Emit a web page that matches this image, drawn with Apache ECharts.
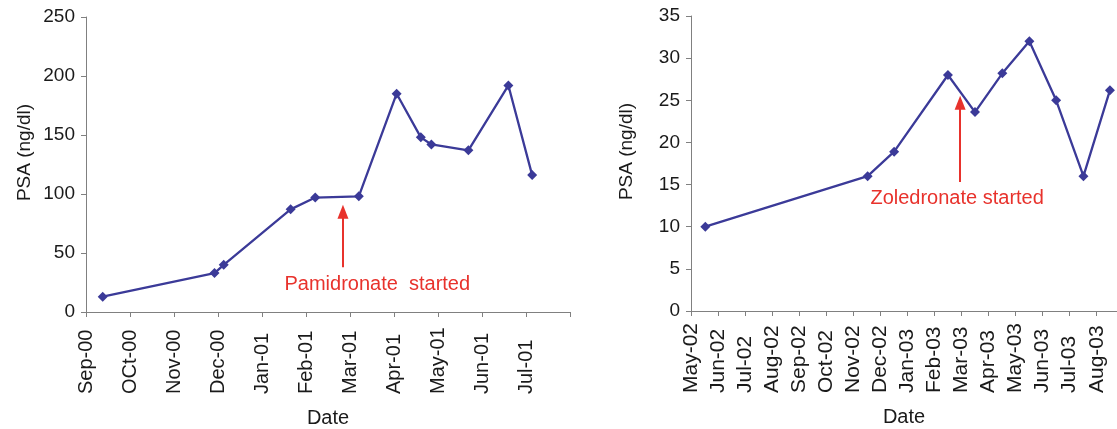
<!DOCTYPE html>
<html>
<head>
<meta charset="utf-8">
<script src="https://cdn.jsdelivr.net/npm/echarts@6/dist/echarts.min.js"></script>
<style>
  html, body { margin: 0; padding: 0; background: #fff; }
  #chart { width: 1117px; height: 429px; }
</style>
</head>
<body>
<div id="chart"></div>
<script>
// 左图：帕米膦酸 (x = 从 Sep-00 起的月份位置)
var leftMonths = ['Sep-00', 'OCt-00', 'Nov-00', 'Dec-00', 'Jan-01', 'Feb-01', 'Mar-01', 'Apr-01', 'May-01', 'Jun-01', 'Jul-01', ''];
var leftX = [0.38, 2.92, 3.13, 4.65, 5.21, 6.20, 7.06, 7.61, 7.85, 8.69, 9.60, 10.14];
var leftPSA = [13, 33, 40, 87, 97, 98, 185, 148, 142, 137, 192, 116];
var leftTicks = [0, 50, 100, 150, 200, 250];

// 右图：唑来膦酸 (x = 从 May-02 起的月份位置)
var rightMonths = ['May-02', 'Jun-02', 'Jul-02', 'Aug-02', 'Sep-02', 'Oct-02', 'Nov-02', 'Dec-02', 'Jan-03', 'Feb-03', 'Mar-03', 'Apr-03', 'May-03', 'Jun-03', 'Jul-03', 'Aug-03'];
var rightX = [0.53, 6.53, 7.51, 9.50, 10.50, 11.51, 12.51, 13.50, 14.51, 15.49];
var rightPSA = [10, 16, 18.9, 28, 23.6, 28.2, 32, 25, 16, 26.2];
var rightTicks = [0, 5, 10, 15, 20, 25, 30, 35];

// 注释（箭头 + 文字）
var leftNote = { text: 'Pamidronate  started', x: 5.84, from: 38, to: 85, textX: 6.62, textY: 23 };
var rightNote = { text: 'Zoledronate started', x: 9.95, from: 15.3, to: 24.7, textX: 9.84, textY: 13.3 };

var lineColor = '#3b3a98';
var red = '#e8322c';
var textColor = '#1a1a1a';
var axisColor = '#808080';

function zip(xs, ys) {
	var out = [];
	for (var i = 0; i < xs.length; i++) out.push([xs[i], ys[i]]);
	return out;
}

function makeX(idx, months, max, size) {
	return {
		type: 'value', gridIndex: idx, min: 0, max: max, interval: 1,
		name: 'Date', nameLocation: 'middle', nameGap: 96,
		nameTextStyle: { color: textColor, fontSize: 20, fontFamily: 'Liberation Sans' },
		axisLine: { lineStyle: { color: axisColor, width: 1 } },
		axisTick: { show: true, length: 5, lineStyle: { color: axisColor } },
		splitLine: { show: false },
		axisLabel: {
			rotate: 90, align: 'left', margin: 82,
			color: textColor, fontSize: size, fontFamily: 'Liberation Sans',
			showMaxLabel: true, showMinLabel: true,
			formatter: function(v) {
				if (Math.abs(v - Math.round(v)) > 1e-6) return '';
				return months[Math.round(v)] || '';
			}
		}
	};
}

function makeY(idx, ticks, nameGap) {
	return {
		type: 'value', gridIndex: idx, min: ticks[0], max: ticks[ticks.length - 1],
		interval: ticks[1] - ticks[0],
		name: 'PSA (ng/dl)', nameLocation: 'middle', nameGap: nameGap,
		nameTextStyle: { color: textColor, fontSize: 19, fontFamily: 'Liberation Sans', padding: [0, 0, 0, 24] },
		axisLine: { show: true, lineStyle: { color: axisColor, width: 1 } },
		axisTick: { show: true, length: 5, lineStyle: { color: axisColor } },
		splitLine: { show: false },
		axisLabel: { color: textColor, fontSize: 19, fontFamily: 'Liberation Sans', margin: 11 }
	};
}

function makeSeries(idx, data, note) {
	return {
		type: 'line', xAxisIndex: idx, yAxisIndex: idx,
		data: data,
		symbol: 'diamond', symbolSize: 10,
		lineStyle: { color: lineColor, width: 2.3 },
		itemStyle: { color: lineColor },
		animation: false,
		markLine: {
			silent: true, animation: false,
			symbol: ['none', 'triangle'], symbolSize: [11, 14],
			label: { show: false },
			lineStyle: { color: red, width: 2, type: 'solid' },
			emphasis: { disabled: true },
			data: [[{ coord: [note.x, note.from] }, { coord: [note.x, note.to] }]]
		},
		markPoint: {
			silent: true, animation: false,
			symbol: 'circle', symbolSize: 1,
			itemStyle: { color: 'rgba(0,0,0,0)' },
			label: {
				show: true, position: 'inside', color: red, fontSize: 20,
				fontFamily: 'Liberation Sans', formatter: note.text
			},
			data: [{ coord: [note.textX, note.textY] }]
		}
	};
}

var myChart = echarts.init(document.getElementById('chart'));
var option = {
	backgroundColor: '#fff',
	animation: false,
	grid: [
		{ left: 86, right: 547, top: 17, bottom: 117, containLabel: false, outerBoundsMode: 'none' },
		{ left: 691, right: 0, top: 16, bottom: 118, containLabel: false, outerBoundsMode: 'none' }
	],
	xAxis: [
		makeX(0, leftMonths, 11, 20),
		makeX(1, rightMonths, 15.75, 21)
	],
	yAxis: [
		makeY(0, leftTicks, 52),
		makeY(1, rightTicks, 55)
	],
	series: [
		makeSeries(0, zip(leftX, leftPSA), leftNote),
		makeSeries(1, zip(rightX, rightPSA), rightNote)
	]
};
myChart.setOption(option);
window.onresize = myChart.resize;
</script>
</body>
</html>
